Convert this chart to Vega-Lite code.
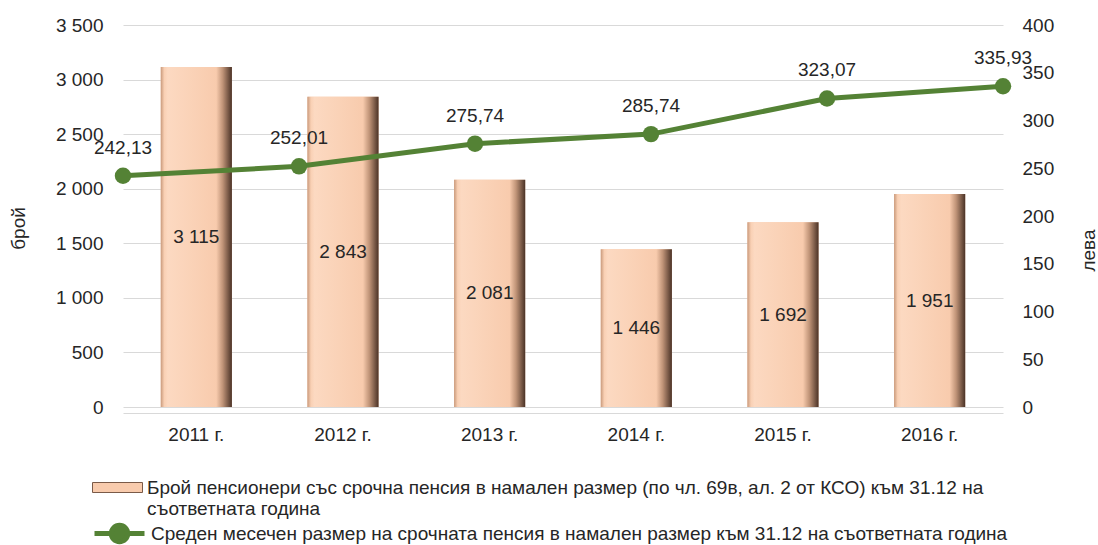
{
  "$schema": "https://vega.github.io/schema/vega-lite/v6.json",
  "autosize": {"type": "none"},
  "width": 880,
  "height": 382,
  "padding": {"left": 123, "top": 25, "right": 95, "bottom": 138},
  "background": "white",
  "data": {"values": [
    {"year": "2011 г.", "count": 3115, "avg": 242.13},
    {"year": "2012 г.", "count": 2843, "avg": 252.01},
    {"year": "2013 г.", "count": 2081, "avg": 275.74},
    {"year": "2014 г.", "count": 1446, "avg": 285.74},
    {"year": "2015 г.", "count": 1692, "avg": 323.07},
    {"year": "2016 г.", "count": 1951, "avg": 335.93}
  ]},
  "layer": [
    {
      "mark": {"type": "bar"},
      "encoding": {
        "x": {"field": "year", "type": "ordinal", "sort": null,
              "scale": {"type": "band", "paddingInner": 0.515, "paddingOuter": 0.2575},
              "axis": {"title": null, "labelAngle": 0, "domain": true, "domainColor": "#d9d9d9", "offset": 6, "labelPadding": 12, "grid": false}},
        "y": {"field": "count", "type": "quantitative",
              "scale": {"domain": [0, 3500], "nice": false, "zero": true},
              "axis": {"title": "брой", "values": [0, 500, 1000, 1500, 2000, 2500, 3000, 3500], "format": ",.0f", "grid": true, "labelPadding": 20, "titleX": -105, "titleY": 203, "titleAngle": -90, "titleBaseline": "middle"}},
        "fill": {"datum": "Брой пенсионери със срочна пенсия в намален размер (по чл. 69в, ал. 2 от КСО) към 31.12 на|съответната година",
                 "type": "nominal",
                 "scale": {"range": ["#f8cbad"]},
                 "legend": {"orient": "none", "legendX": -31, "legendY": 437, "title": null,
                            "symbolType": "M-1,-0.2H1V0.2H-1Z", "symbolSize": 2500, "symbolStrokeColor": "#7a5a48", "symbolStrokeWidth": 1,
                            "labelExpr": "split(datum.label, '|')", "labelLimit": 1200, "labelFontSize": 19, "labelOffset": 4}}
      }
    },
    {
      "mark": {"type": "bar", "color": {"gradient": "linear", "x1": 0, "x2": 1, "y1": 0, "y2": 0,
        "stops": [
          {"offset": 0, "color": "#c99a7c"},
          {"offset": 0.05, "color": "#f9d0b4"},
          {"offset": 0.1, "color": "#fcd9c1"},
          {"offset": 0.78, "color": "#f8cbad"},
          {"offset": 0.87, "color": "#c09478"},
          {"offset": 1, "color": "#4a3226"}
        ]}},
      "encoding": {
        "x": {"field": "year", "type": "ordinal", "sort": null,
              "scale": {"type": "band", "paddingInner": 0.515, "paddingOuter": 0.2575}, "axis": null},
        "y": {"field": "count", "type": "quantitative",
              "scale": {"domain": [0, 3500], "nice": false}, "axis": null}
      }
    },
    {
      "mark": {"type": "text", "fontSize": 19, "color": "#262626", "baseline": "middle"},
      "encoding": {
        "x": {"field": "year", "type": "ordinal", "sort": null,
              "scale": {"type": "band", "paddingInner": 0.515, "paddingOuter": 0.2575}, "axis": null},
        "y": {"field": "count", "type": "quantitative",
              "scale": {"domain": [0, 7000], "nice": false}, "axis": null},
        "text": {"field": "count", "type": "quantitative", "format": ",.0f"}
      }
    },
    {
      "mark": {"type": "line", "strokeWidth": 5},
      "encoding": {
        "x": {"field": "year", "type": "ordinal", "sort": null,
              "scale": {"type": "point", "padding": 0}, "axis": null},
        "y": {"field": "avg", "type": "quantitative",
              "scale": {"domain": [0, 400], "nice": false},
              "axis": {"orient": "right", "title": "лева", "values": [0, 50, 100, 150, 200, 250, 300, 350, 400], "grid": false, "labelPadding": 19, "titleX": 85, "titleY": 225, "titleAngle": -90, "titleBaseline": "middle"}},
        "stroke": {"datum": "Среден месечен размер на срочната пенсия в намален размер към 31.12 на съответната година",
                   "type": "nominal",
                   "scale": {"range": ["#548235"]},
                   "legend": {"orient": "none", "legendX": -31, "legendY": 481, "title": null,
                              "symbolType": "M-1,0L-0.33,0M0.33,0A0.33,0.33,0,1,1,-0.33,0A0.33,0.33,0,1,1,0.33,0ZM0.33,0L1,0",
                              "symbolSize": 2500, "symbolStrokeWidth": 5, "symbolFillColor": "#548235",
                              "labelLimit": 1200, "labelFontSize": 19, "labelOffset": 4}}
      }
    },
    {
      "mark": {"type": "point", "filled": true, "size": 270, "color": "#548235", "opacity": 1},
      "encoding": {
        "x": {"field": "year", "type": "ordinal", "sort": null,
              "scale": {"type": "point", "padding": 0}, "axis": null},
        "y": {"field": "avg", "type": "quantitative",
              "scale": {"domain": [0, 400], "nice": false}, "axis": null}
      }
    },
    {
      "mark": {"type": "text", "fontSize": 19, "color": "#262626", "baseline": "middle", "dy": -28},
      "encoding": {
        "x": {"field": "year", "type": "ordinal", "sort": null,
              "scale": {"type": "point", "padding": 0}, "axis": null},
        "y": {"field": "avg", "type": "quantitative",
              "scale": {"domain": [0, 400], "nice": false}, "axis": null},
        "text": {"field": "avg", "type": "quantitative", "format": ".2f"}
      }
    }
  ],
  "resolve": {"scale": {"x": "independent", "y": "independent"}},
  "config": {
    "font": "Liberation Sans",
    "locale": {"number": {"decimal": ",", "thousands": " ", "grouping": [3], "currency": ["", ""]}},
    "view": {"stroke": null},
    "axis": {"labelFontSize": 19, "labelColor": "#262626", "titleFontSize": 19, "titleFontWeight": "normal", "titleColor": "#262626", "ticks": false, "domain": false, "gridColor": "#d9d9d9", "gridWidth": 1.2},
    "legend": {"labelColor": "#262626", "labelFontSize": 19}
  }
}
